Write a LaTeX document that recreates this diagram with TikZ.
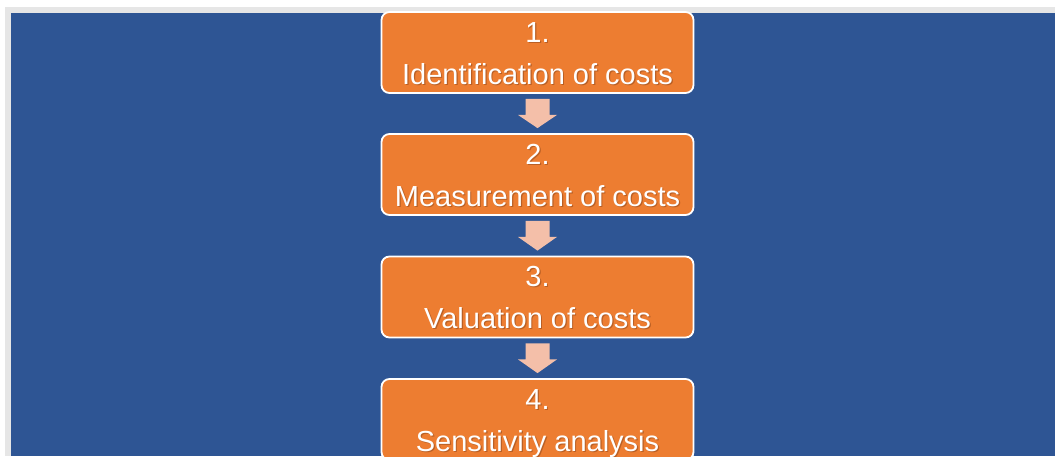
\documentclass[tikz,border=0pt]{standalone}
\usepackage{fontspec}
\setmainfont{Liberation Sans}
\usetikzlibrary{calc}
\definecolor{bgblue}{HTML}{2E5594}
\definecolor{boxorange}{HTML}{ED7D31}
\definecolor{arrowfill}{HTML}{F4BFA9}
\definecolor{framegray}{HTML}{E6E6E6}
\definecolor{shadowbrown}{HTML}{6B3413}
\begin{document}
\begin{tikzpicture}[x=1pt,y=-1pt,
  stepbox/.style={draw=white, line width=1.8pt, fill=boxorange, rounded corners=8pt,
    minimum width=312pt, minimum height=81pt, inner sep=0pt},
  steptext/.style={text=white, inner sep=0pt, anchor=base, font=\fontsize{29}{34}\selectfont},
  stepshadow/.style={steptext, text=shadowbrown, opacity=0.4},
  blockarrow/.style={fill=arrowfill}]
\useasboundingbox (0,0) rectangle (1055,456);
\clip (0,0) rectangle (1055,456);
\fill[white] (0,0) rectangle (1055,456);
\fill[framegray] (5,7) rectangle (1055,456);
\fill[bgblue] (10.5,13) rectangle (1055,456);
% boxes
\node[stepbox] (b1) at (537.5,52.5) {};
\node[stepbox] (b2) at (537.5,174.5) {};
\node[stepbox] (b3) at (537.5,297) {};
\node[stepbox] (b4) at (537.5,419.5) {};
% texts (with soft shadow)
\foreach \b/\n/\t in {b1/1/Identification of costs, b2/2/Measurement of costs, b3/3/Valuation of costs, b4/4/Sensitivity analysis}{
  \node[stepshadow] (s\n a) at ($(\b.north)+(1.2,32.2)$) {\n.};
  \node[stepshadow] (s\n b) at ($(\b.north)+(1.2,74.2)$) {\t};
  \node[steptext] (t\n a) at ($(\b.north)+(0,31)$) {\n.};
  \node[steptext] (t\n b) at ($(\b.north)+(0,73)$) {\t};
}
% arrows between boxes
\foreach \a/\b in {b1/b2,b2/b3,b3/b4}{
  \path ($(\a.south)+(0,5)$) coordinate (top) ($(\b.north)+(0,-5)$) coordinate (bot);
  \fill[blockarrow] ($(top)+(-12,0)$) -- ($(top)+(12,0)$) -- ($(top)+(12,16)$)
    -- ($(top)+(19.5,16)$) -- (bot) -- ($(top)+(-19.5,16)$) -- ($(top)+(-12,16)$) -- cycle;
}
\end{tikzpicture}
\end{document}
